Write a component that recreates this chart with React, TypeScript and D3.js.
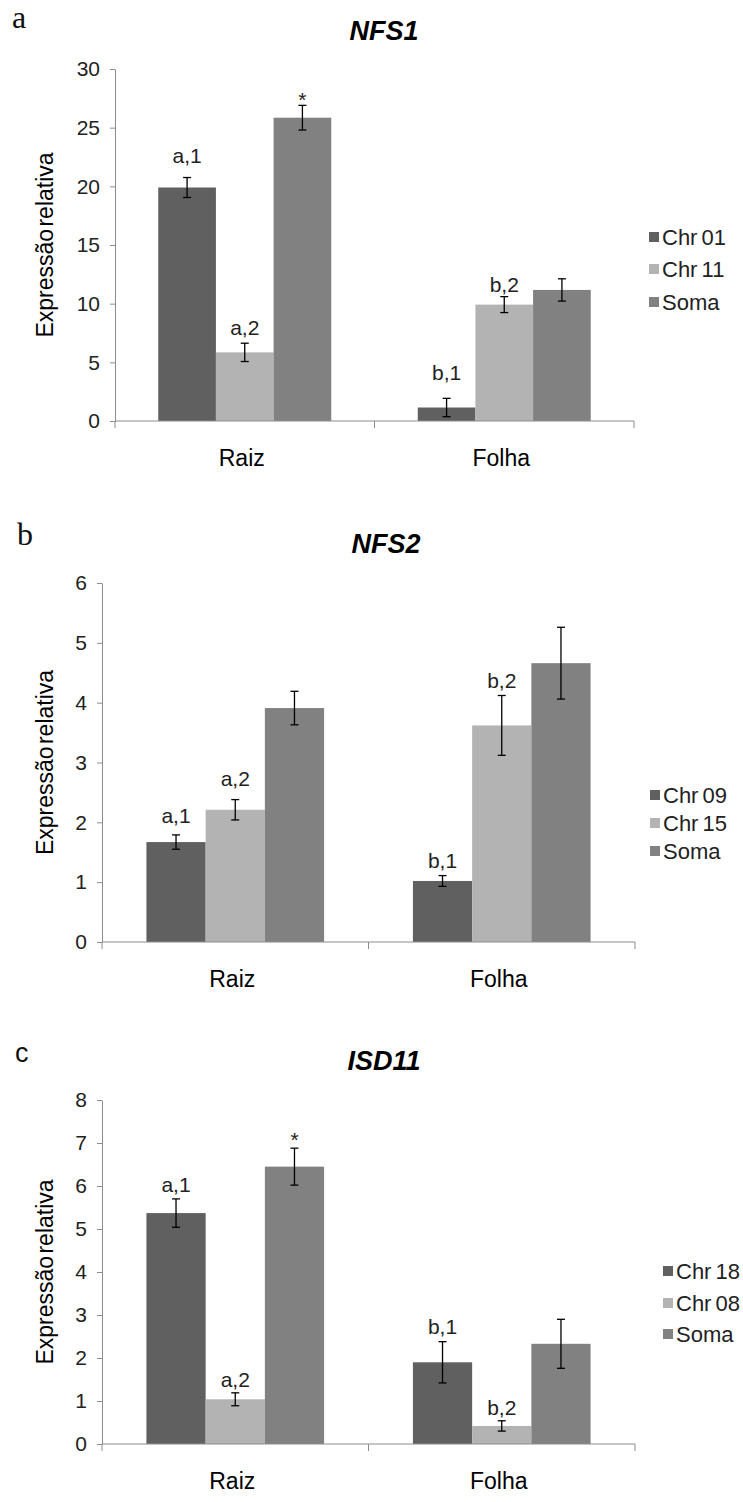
import * as d3 from "d3";
import { useEffect, useRef } from "react";

const categories = ["Raiz", "Folha"];
const seriesColors = ["#606060", "#b3b3b3", "#818181"];

// panel a - NFS1
const seriesA = ["Chr 01", "Chr 11", "Soma"];
const valuesA = [
  [19.9, 5.85, 25.85],
  [1.15, 9.92, 11.17],
];
const errorsA = [
  [0.85, 0.78, 1.05],
  [0.78, 0.68, 0.95],
];
const marksA = [
  { cat: 0, s: 0, text: "a,1", at: 22.0 },
  { cat: 0, s: 1, text: "a,2", at: 7.33 },
  { cat: 0, s: 2, text: "*", at: 26.8 },
  { cat: 1, s: 0, text: "b,1", at: 3.5 },
  { cat: 1, s: 1, text: "b,2", at: 11.0 },
];
const ticksA = [0, 5, 10, 15, 20, 25, 30];

// panel b - NFS2
const seriesB = ["Chr 09", "Chr 15", "Soma"];
const valuesB = [
  [1.67, 2.21, 3.91],
  [1.02, 3.62, 4.66],
];
const errorsB = [
  [0.12, 0.17, 0.28],
  [0.09, 0.5, 0.6],
];
const marksB = [
  { cat: 0, s: 0, text: "a,1", at: 1.99 },
  { cat: 0, s: 1, text: "a,2", at: 2.6 },
  { cat: 1, s: 0, text: "b,1", at: 1.24 },
  { cat: 1, s: 1, text: "b,2", at: 4.25 },
];
const ticksB = [0, 1, 2, 3, 4, 5, 6];

// panel c - ISD11
const seriesC = ["Chr 18", "Chr 08", "Soma"];
const valuesC = [
  [5.37, 1.04, 6.45],
  [1.9, 0.42, 2.33],
];
const errorsC = [
  [0.33, 0.15, 0.43],
  [0.48, 0.12, 0.57],
];
const marksC = [
  { cat: 0, s: 0, text: "a,1", at: 5.87 },
  { cat: 0, s: 1, text: "a,2", at: 1.33 },
  { cat: 0, s: 2, text: "*", at: 6.9 },
  { cat: 1, s: 0, text: "b,1", at: 2.56 },
  { cat: 1, s: 1, text: "b,2", at: 0.67 },
];
const ticksC = [0, 1, 2, 3, 4, 5, 6, 7, 8];

const SANS = "'Liberation Sans', Arial, sans-serif";

type Mark = { cat: number; s: number; text: string; at: number };

type PanelSpec = {
  letter: string;
  letterFont: string;
  letterSize: number;
  letterX: number;
  letterY: number;
  title: string;
  titleX: number;
  titleY: number;
  series: string[];
  values: number[][];
  errors: number[][];
  marks: Mark[];
  ticks: number[];
  left: number;
  right: number;
  top: number;
  bottom: number;
  legendX: number;
  legendY: number[];
};

function drawPanel(svg: d3.Selection<SVGSVGElement, unknown, null, undefined>, p: PanelSpec) {
  const g = svg.append("g");
  const maxTick = p.ticks[p.ticks.length - 1];

  const y = d3.scaleLinear().domain([0, maxTick]).range([p.bottom, p.top]);
  const x = d3.scaleBand<string>().domain(categories).range([p.left, p.right]).padding(0);
  const xs = d3
    .scaleBand<number>()
    .domain(p.series.map((_, i) => i))
    .range([0, x.bandwidth()])
    .paddingInner(0)
    .paddingOuter(0.75);

  g.append("text")
    .attr("x", p.letterX)
    .attr("y", p.letterY)
    .attr("font-family", p.letterFont)
    .attr("font-size", p.letterSize)
    .attr("fill", "#111")
    .text(p.letter);

  g.append("text")
    .attr("x", p.titleX)
    .attr("y", p.titleY)
    .attr("text-anchor", "middle")
    .attr("font-family", SANS)
    .attr("font-size", 27)
    .attr("font-weight", 700)
    .attr("font-style", "italic")
    .attr("fill", "#000")
    .text(p.title);

  // y axis
  const yAxis = g
    .append("g")
    .attr("transform", `translate(${p.left},0)`)
    .call(
      d3
        .axisLeft(y)
        .tickValues(p.ticks)
        .tickFormat(d3.format("d"))
        .tickSize(5)
        .tickSizeOuter(0)
        .tickPadding(10)
    );
  yAxis.select(".domain").attr("stroke", "#8c8c8c");
  yAxis.selectAll(".tick line").attr("stroke", "#8c8c8c");
  yAxis
    .selectAll(".tick text")
    .attr("font-family", SANS)
    .attr("font-size", 21)
    .attr("fill", "#222");

  g.append("text")
    .attr("transform", `translate(${53},${(p.top + p.bottom) / 2}) rotate(-90)`)
    .attr("text-anchor", "middle")
    .attr("font-family", SANS)
    .attr("font-size", 23)
    .attr("word-spacing", -4)
    .attr("fill", "#000")
    .text("Expressão relativa");

  // bars
  categories.forEach((cat, ci) => {
    const x0 = x(cat) ?? 0;
    p.series.forEach((_, si) => {
      const v = p.values[ci][si];
      const bx = x0 + (xs(si) ?? 0);
      const bw = xs.bandwidth();
      g.append("rect")
        .attr("x", bx)
        .attr("y", y(v))
        .attr("width", bw)
        .attr("height", y(0) - y(v))
        .attr("fill", seriesColors[si]);

      const e = p.errors[ci][si];
      const cx = bx + bw / 2;
      g.append("line")
        .attr("x1", cx)
        .attr("x2", cx)
        .attr("y1", y(v + e))
        .attr("y2", y(v - e))
        .attr("stroke", "#000")
        .attr("stroke-width", 1.3);
      [v + e, v - e].forEach((ev) => {
        g.append("line")
          .attr("x1", cx - 4)
          .attr("x2", cx + 4)
          .attr("y1", y(ev))
          .attr("y2", y(ev))
          .attr("stroke", "#000")
          .attr("stroke-width", 1.3);
      });
    });
  });

  // x axis
  g.append("line")
    .attr("x1", p.left)
    .attr("x2", p.right)
    .attr("y1", y(0))
    .attr("y2", y(0))
    .attr("stroke", "#8c8c8c");
  const bounds = [p.left, ...categories.map((c) => (x(c) ?? 0) + x.bandwidth())];
  bounds.forEach((bx) => {
    g.append("line")
      .attr("x1", bx)
      .attr("x2", bx)
      .attr("y1", y(0))
      .attr("y2", y(0) + 7)
      .attr("stroke", "#8c8c8c");
  });
  categories.forEach((cat) => {
    g.append("text")
      .attr("x", (x(cat) ?? 0) + x.bandwidth() / 2 - 3)
      .attr("y", y(0) + 45)
      .attr("text-anchor", "middle")
      .attr("font-family", SANS)
      .attr("font-size", 23)
      .attr("fill", "#000")
      .text(cat);
  });

  // significance marks
  p.marks.forEach((m) => {
    const bx = (x(categories[m.cat]) ?? 0) + (xs(m.s) ?? 0) + xs.bandwidth() / 2;
    g.append("text")
      .attr("x", bx)
      .attr("y", y(m.at))
      .attr("text-anchor", "middle")
      .attr("font-family", SANS)
      .attr("font-size", 21)
      .attr("fill", "#222")
      .text(m.text);
  });

  // legend
  p.series.forEach((name, si) => {
    const ly = p.legendY[si];
    g.append("rect")
      .attr("x", p.legendX)
      .attr("y", ly - 5)
      .attr("width", 10)
      .attr("height", 10)
      .attr("fill", seriesColors[si]);
    g.append("text")
      .attr("x", p.legendX + 13)
      .attr("y", ly + 8)
      .attr("font-family", SANS)
      .attr("font-size", 22)
      .attr("word-spacing", -2)
      .attr("fill", "#222")
      .text(name);
  });
}

export default function App() {
  const svgRef = useRef<SVGSVGElement | null>(null);

  useEffect(() => {
    if (!svgRef.current) return;
    const svg = d3.select(svgRef.current);
    svg.selectAll("*").remove();

    drawPanel(svg, {
      letter: "a",
      letterFont: "'Liberation Serif', 'Times New Roman', serif",
      letterSize: 32,
      letterX: 12,
      letterY: 28,
      title: "NFS1",
      titleX: 384,
      titleY: 40,
      series: seriesA,
      values: valuesA,
      errors: errorsA,
      marks: marksA,
      ticks: ticksA,
      left: 115,
      right: 634,
      top: 69,
      bottom: 421,
      legendX: 649,
      legendY: [237, 269, 302],
    });

    drawPanel(svg, {
      letter: "b",
      letterFont: "'Liberation Serif', 'Times New Roman', serif",
      letterSize: 32,
      letterX: 17,
      letterY: 545,
      title: "NFS2",
      titleX: 386,
      titleY: 553,
      series: seriesB,
      values: valuesB,
      errors: errorsB,
      marks: marksB,
      ticks: ticksB,
      left: 102,
      right: 635,
      top: 583,
      bottom: 942,
      legendX: 650,
      legendY: [795, 823, 851],
    });

    drawPanel(svg, {
      letter: "c",
      letterFont: SANS,
      letterSize: 27,
      letterX: 15,
      letterY: 1062,
      title: "ISD11",
      titleX: 384,
      titleY: 1070,
      series: seriesC,
      values: valuesC,
      errors: errorsC,
      marks: marksC,
      ticks: ticksC,
      left: 102,
      right: 635,
      top: 1100,
      bottom: 1444,
      legendX: 663,
      legendY: [1271, 1303, 1334],
    });
  }, []);

  return (
    <svg
      ref={svgRef}
      width={743}
      height={1502}
      style={{ position: "absolute", left: 0, top: 0, background: "#fff" }}
    />
  );
}
